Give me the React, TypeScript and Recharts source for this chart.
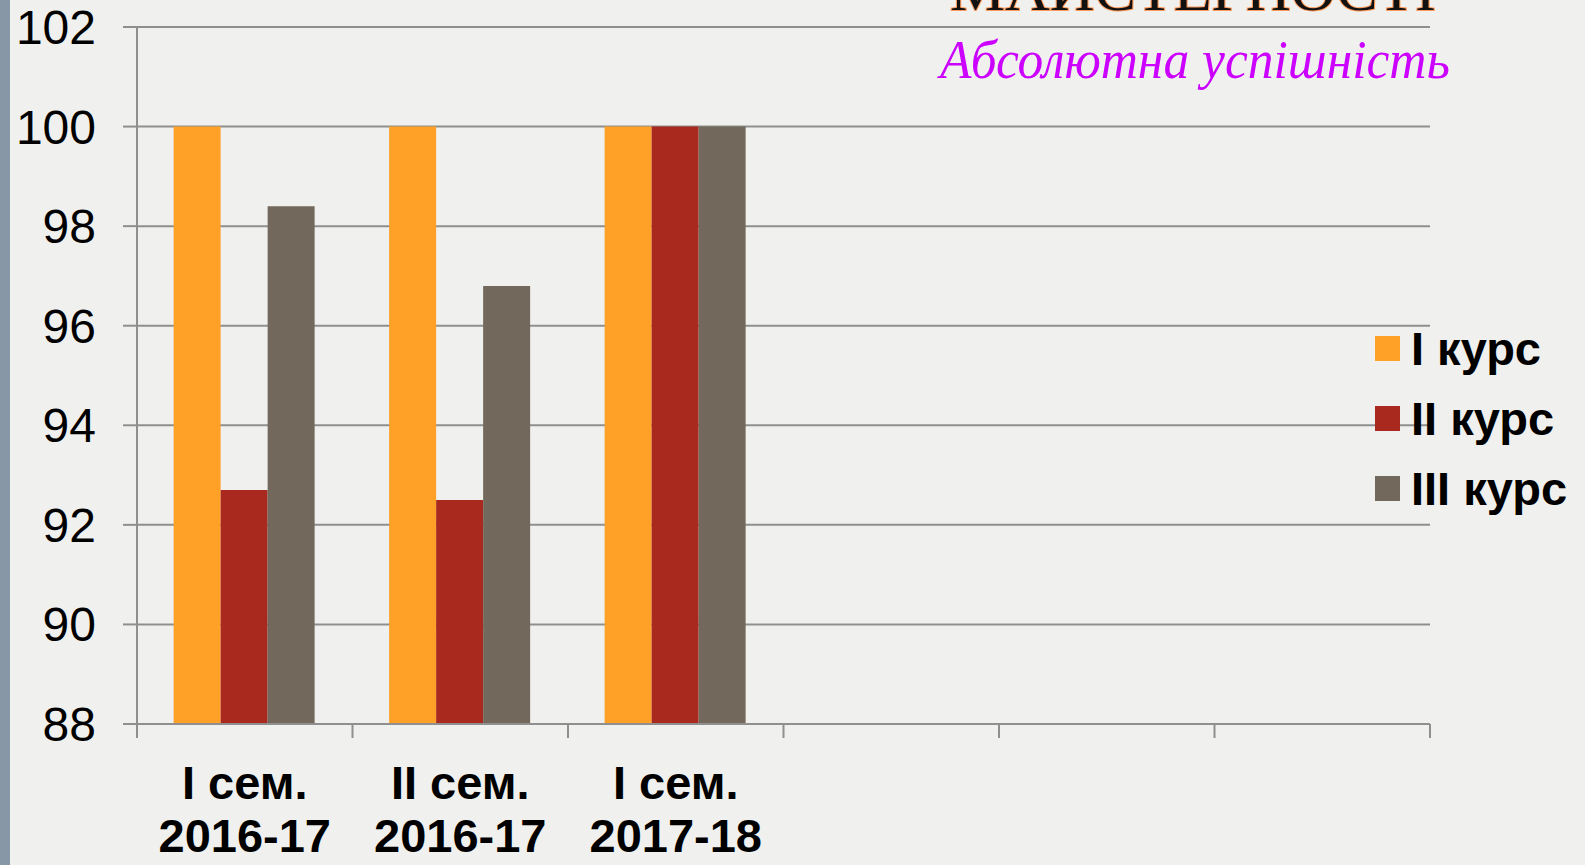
import { Bar, BarChart, CartesianGrid, XAxis, YAxis } from 'recharts';

const semesters = ['I сем.', 'II сем.', 'I сем.', '', '', ''];
const years = ['2016-17', '2016-17', '2017-18', '', '', ''];

const course1 = [100, 100, 100, null, null, null];
const course2 = [92.7, 92.5, 100, null, null, null];
const course3 = [98.4, 96.8, 100, null, null, null];

const seriesNames = ['I курс', 'II курс', 'III курс'];
const seriesColors = ['#FFA126', '#A9291E', '#72695C'];

const yTicks = [88, 90, 92, 94, 96, 98, 100, 102];

const W = 1585;
const H = 865;
const MARGIN = { top: 27, right: 155, bottom: 0, left: 0 };
const Y_AXIS_W = 137;
const X_AXIS_H = 141;
const GRID = '#8f8f8f';
const FONT = '"Liberation Sans", Arial, sans-serif';

const data = semesters.map((sem, i) => ({
  key: `c${i}`,
  sem,
  year: years[i],
  c1: course1[i],
  c2: course2[i],
  c3: course3[i],
}));

// half of a category band, used to put the tick marks between groups
const plotW = W - MARGIN.left - MARGIN.right - Y_AXIS_W;
const halfBand = plotW / semesters.length / 2;

function CategoryTick(props: any) {
  const { x, y, index } = props;
  const i = index ?? props.payload?.index ?? 0;
  const last = i === semesters.length - 1;
  return (
    <g>
      <line x1={x - halfBand} x2={x - halfBand} y1={y} y2={y + 14} stroke={GRID} strokeWidth={2} />
      {last && <line x1={x + halfBand} x2={x + halfBand} y1={y} y2={y + 14} stroke={GRID} strokeWidth={2} />}
      <text x={x} y={y + 75} textAnchor="middle" fontFamily={FONT} fontWeight="bold" fontSize={47} fill="#000">
        {semesters[i]}
      </text>
      <text x={x} y={y + 128} textAnchor="middle" fontFamily={FONT} fontWeight="bold" fontSize={47} fill="#000">
        {years[i]}
      </text>
    </g>
  );
}

export default function App() {
  return (
    <div style={{ position: 'absolute', left: 0, top: 0, width: W, height: H, background: '#f0f0ef', overflow: 'hidden' }}>
      <div style={{ position: 'absolute', left: 0, top: 0, width: 10, height: H, background: '#8797a5' }} />
      <div style={{ position: 'absolute', left: 0, top: 0 }}>
        <BarChart width={W} height={H} data={data} margin={MARGIN} barCategoryGap="17%" barGap={0}>
          <CartesianGrid vertical={false} stroke={GRID} strokeWidth={2} />
          <XAxis
            dataKey="key"
            height={X_AXIS_H}
            interval={0}
            tickLine={false}
            tickSize={0}
            tickMargin={0}
            axisLine={{ stroke: GRID, strokeWidth: 2 }}
            tick={<CategoryTick />}
          />
          <YAxis
            width={Y_AXIS_W}
            domain={[88, 102]}
            ticks={yTicks}
            interval={0}
            tickSize={14}
            tickMargin={27}
            tickLine={{ stroke: GRID, strokeWidth: 2 }}
            axisLine={{ stroke: GRID, strokeWidth: 2 }}
            tick={{ fontFamily: FONT, fontSize: 48, fill: '#000' }}
          />
          <Bar dataKey="c1" name={seriesNames[0]} fill={seriesColors[0]} isAnimationActive={false} />
          <Bar dataKey="c2" name={seriesNames[1]} fill={seriesColors[1]} isAnimationActive={false} />
          <Bar dataKey="c3" name={seriesNames[2]} fill={seriesColors[2]} isAnimationActive={false} />
        </BarChart>
      </div>

      <svg width={W} height={H} style={{ position: 'absolute', left: 0, top: 0, pointerEvents: 'none' }}>
        <text
          x={950}
          y={10}
          textLength={486}
          lengthAdjust="spacingAndGlyphs"
          fontFamily='"Liberation Serif", "Times New Roman", serif'
          fontSize={58}
          fill="#111"
          stroke="#ff9a5a"
          strokeWidth={2}
          paintOrder="stroke"
        >
          МАЙСТЕРНОСТІ
        </text>
        <text
          x={940}
          y={78}
          textLength={510}
          lengthAdjust="spacingAndGlyphs"
          fontFamily='"Liberation Serif", "Times New Roman", serif'
          fontStyle="italic"
          fontSize={54}
          fill="#cc00ff"
        >
          Абсолютна успішність
        </text>
      </svg>

      <div style={{ position: 'absolute', left: 1375, top: 313, fontFamily: FONT, fontWeight: 'bold', fontSize: 47, color: '#000' }}>
        {seriesNames.map((name, i) => (
          <div key={name} style={{ display: 'flex', alignItems: 'center', height: 70, whiteSpace: 'nowrap' }}>
            <span style={{ display: 'inline-block', width: 25, height: 25, background: seriesColors[i], marginRight: 11 }} />
            <span>{name}</span>
          </div>
        ))}
      </div>
    </div>
  );
}
